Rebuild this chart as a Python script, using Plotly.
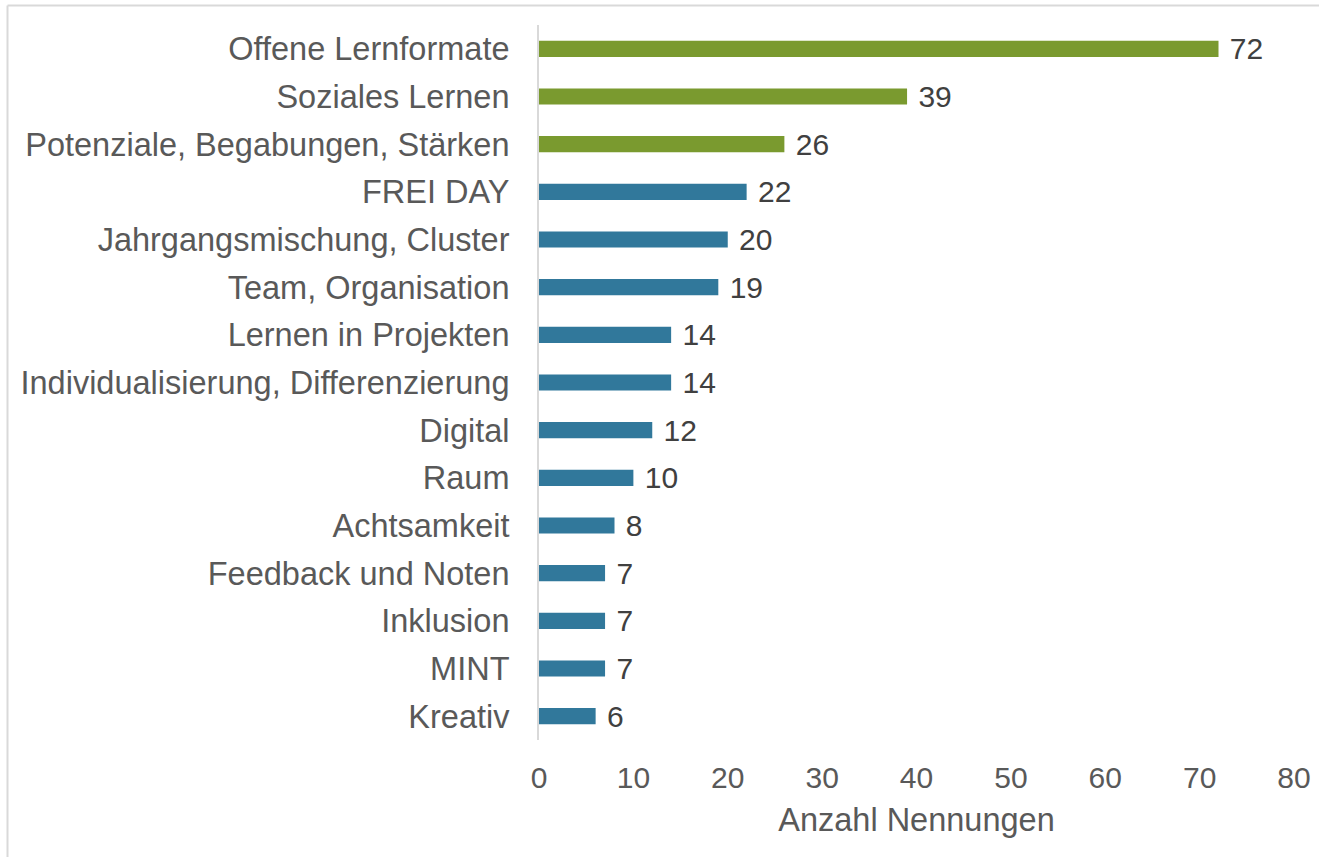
import plotly.graph_objects as go

categories = ["Offene Lernformate", "Soziales Lernen", "Potenziale, Begabungen, Stärken",
              "FREI DAY", "Jahrgangsmischung, Cluster", "Team, Organisation",
              "Lernen in Projekten", "Individualisierung, Differenzierung", "Digital",
              "Raum", "Achtsamkeit", "Feedback und Noten", "Inklusion", "MINT", "Kreativ"]
values = [72, 39, 26, 22, 20, 19, 14, 14, 12, 10, 8, 7, 7, 7, 6]
x_ticks = [0, 10, 20, 30, 40, 50, 60, 70, 80]
x_title = "Anzahl Nennungen"

GREEN = "#7A9A2F"
BLUE = "#31789B"
colors = [GREEN if i < 3 else BLUE for i in range(len(values))]

FONT = "Liberation Sans, Arial"

fig = go.Figure(go.Bar(
    x=values, y=categories, orientation="h",
    marker=dict(color=colors, line=dict(width=0)),
    text=[" " + str(v) for v in values], textposition="outside",
    textfont=dict(family=FONT, size=30, color="#404040"),
    constraintext="none",
    cliponaxis=False, width=0.34,
))

W, H = 1319, 857
L, R, T, B = 539, 25, 25, 117
fig.update_layout(
    width=W, height=H,
    margin=dict(l=L, r=R, t=T, b=B, autoexpand=False),
    paper_bgcolor="white", plot_bgcolor="white",
    showlegend=False,
    font=dict(family=FONT, color="#595959"),
    xaxis=dict(range=[0, 80], tickvals=x_ticks, showgrid=False, zeroline=False,
               showline=False, tickfont=dict(size=30, color="#595959"),
               ticklabelstandoff=17,
               title=dict(text=x_title, font=dict(size=32.5, color="#595959"), standoff=15)),
    yaxis=dict(autorange="reversed", showgrid=False, zeroline=False,
               showline=True, linecolor="#D9D9D9", linewidth=2,
               tickfont=dict(size=32.5, color="#595959"), ticklabelstandoff=21,
               ticks=""),
)

pw = W - L - R
ph = H - T - B
x_left = (7.5 - L) / pw
y_top = 1 + (T - 5.5) / ph
fig.add_shape(type="line", xref="paper", yref="paper", x0=x_left, x1=x_left,
              y0=-2, y1=y_top, line=dict(color="#D9D9D9", width=2))
fig.add_shape(type="line", xref="paper", yref="paper", x0=x_left, x1=2,
              y0=y_top, y1=y_top, line=dict(color="#D9D9D9", width=2))

fig.write_html("out.html",
               config={"displayModeBar": False},
               post_script="document.body.style.margin='0';document.body.style.padding='0';")
